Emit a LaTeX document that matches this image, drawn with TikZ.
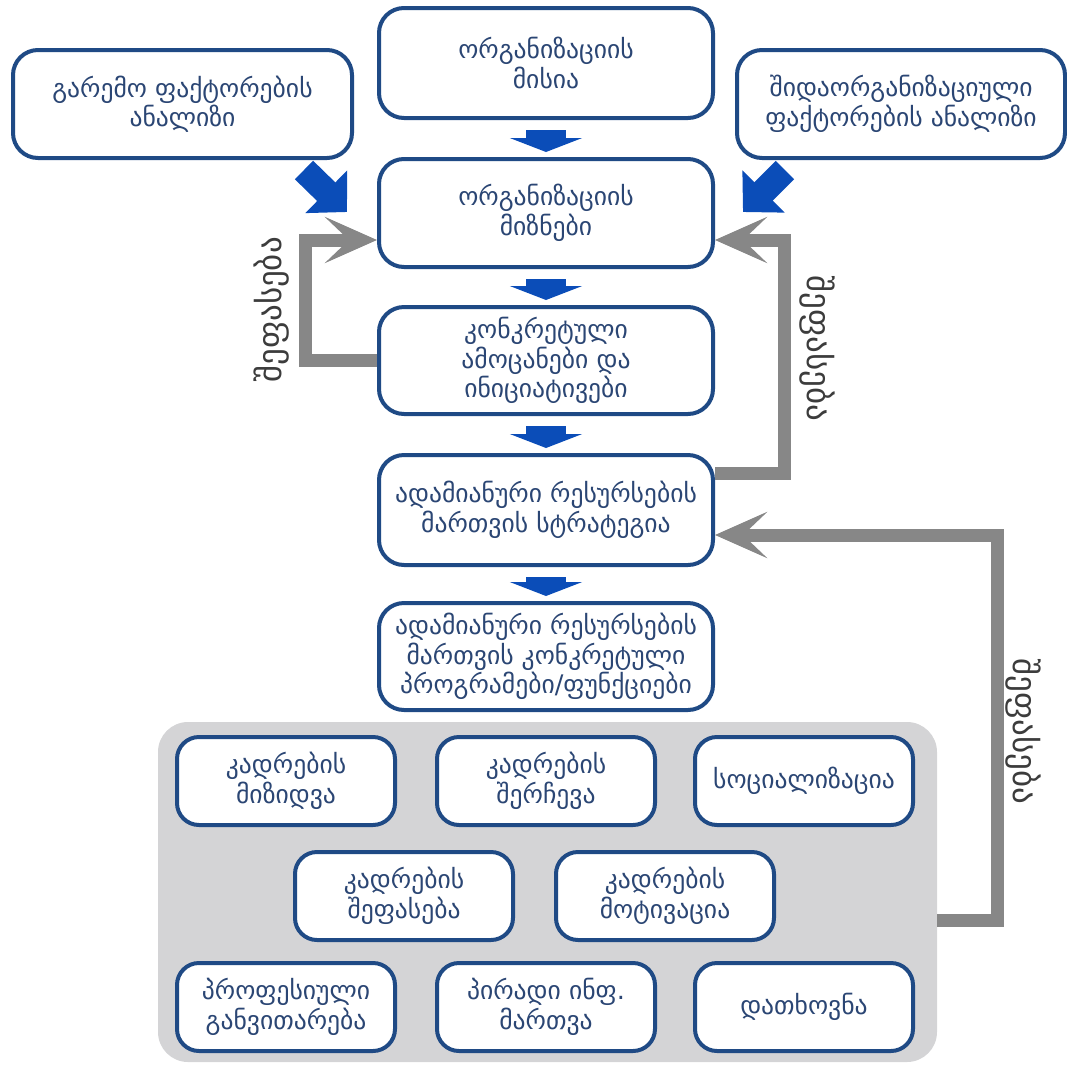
\documentclass[tikz,border=0pt]{standalone}
\usepackage{fontspec}
\setmainfont{DejaVu Sans}
\usetikzlibrary{arrows.meta}
\definecolor{boxline}{HTML}{1F4A85}
\definecolor{boxtext}{HTML}{2B4674}
\definecolor{bluearr}{HTML}{0B4DB8}
\definecolor{grayarr}{HTML}{878787}
\definecolor{panelgray}{HTML}{D4D4D6}
\definecolor{lbltext}{HTML}{3C3C3C}
\begin{document}
\begin{tikzpicture}[x=0.5pt,y=-0.5pt,
 box/.style={draw=boxline,line width=2pt,rounded corners=12.5pt,fill=white,align=center,text=boxtext,font=\fontsize{12.8}{13.6}\selectfont,inner sep=1pt},
 cbox/.style={box,minimum width=167pt},
 pbox/.style={box,rounded corners=11pt,minimum width=109pt,minimum height=44pt},
 panel/.style={fill=panelgray,rounded corners=15pt,inner sep=0pt},
 bdown/.style={draw=bluearr,line width=20pt,-{Triangle[width=36pt,length=7pt]}},
 bdiag/.style={draw=bluearr,line width=13pt,-{Triangle[width=29pt,length=14.5pt]}},
 gfb/.style={draw=grayarr,line width=6.5pt,line join=miter,-{Stealth[length=26pt,width=23pt,inset=12pt]}},
 lbl/.style={text=lbltext,font=\fontsize{16.5}{18}\selectfont,inner sep=0pt}
]
\useasboundingbox (0,0) rectangle (1067,1067);
\node[cbox,minimum height=55pt] (mission) at (546,63) {ორგანიზაციის\\მისია};
\node[box,minimum width=169.5pt,minimum height=54pt] (envan) at (182.5,104) {გარემო ფაქტორების\\ანალიზი};
\node[box,minimum width=164pt,minimum height=54pt] (intan) at (901,104) {შიდაორგანიზაციული\\ფაქტორების ანალიზი};
\node[cbox,minimum height=54pt] (goals) at (546,213) {ორგანიზაციის\\მიზნები};
\node[cbox,minimum height=53.5pt] (tasks) at (546,360.5) {კონკრეტული\\ამოცანები და\\ინიციატივები};
\node[cbox,minimum height=55pt] (strat) at (546,510) {ადამიანური რესურსების\\მართვის სტრატეგია};
\node[cbox,minimum height=53.5pt] (progs) at (546,656.5) {ადამიანური რესურსების\\მართვის კონკრეტული\\პროგრამები/ფუნქციები};
\node[panel,minimum width=389.5pt,minimum height=170pt] (panel) at (547.5,892) {};
\node[pbox] (p11) at (286,781) {კადრების\\მიზიდვა};
\node[pbox] (p12) at (546,781) {კადრების\\შერჩევა};
\node[pbox] (p13) at (804,781) {სოციალიზაცია};
\node[pbox] (p21) at (404,896) {კადრების\\შეფასება};
\node[pbox] (p22) at (665,896) {კადრების\\მოტივაცია};
\node[pbox] (p31) at (286,1007) {პროფესიული\\განვითარება};
\node[pbox] (p32) at (546,1007) {პირადი ინფ.\\მართვა};
\node[pbox] (p33) at (804,1007) {დათხოვნა};
\draw[bdown] ([yshift=-5pt]mission.south) -- ([yshift=2.5pt]goals.north);
\draw[bdown] ([yshift=-5pt]goals.south) -- ([yshift=2.5pt]tasks.north);
\draw[bdown] ([yshift=-5pt]tasks.south) -- ([yshift=2.5pt]strat.north);
\draw[bdown] ([yshift=-5pt]strat.south) -- ([yshift=2.5pt]progs.north);
\draw[bdiag] ([xshift=-25pt,yshift=-5pt]envan.south east) -- ([xshift=-15pt,yshift=-27.5pt]goals.north west);
\draw[bdiag] ([xshift=25pt,yshift=-5pt]intan.south west) -- ([xshift=14pt,yshift=-27.5pt]goals.north east);
\draw[gfb] (tasks.west) -- ++(-72,0) |- ([yshift=-13.5pt]goals.west);
\draw[gfb] ([yshift=-10pt]strat.north east) -- ++(69,0) |- ([yshift=-13.5pt]goals.east);
\draw[gfb] ([yshift=-14pt]panel.east) -- ++(60,0) |- ([yshift=-12.5pt]strat.east);
\node[lbl,rotate=90] (lab1) at (272,310) {შეფასება};
\node[lbl,rotate=-90] (lab2) at (817,348) {შეფასება};
\node[lbl,rotate=-90] (lab3) at (1023,731) {შეფასება};
\end{tikzpicture}
\end{document}
